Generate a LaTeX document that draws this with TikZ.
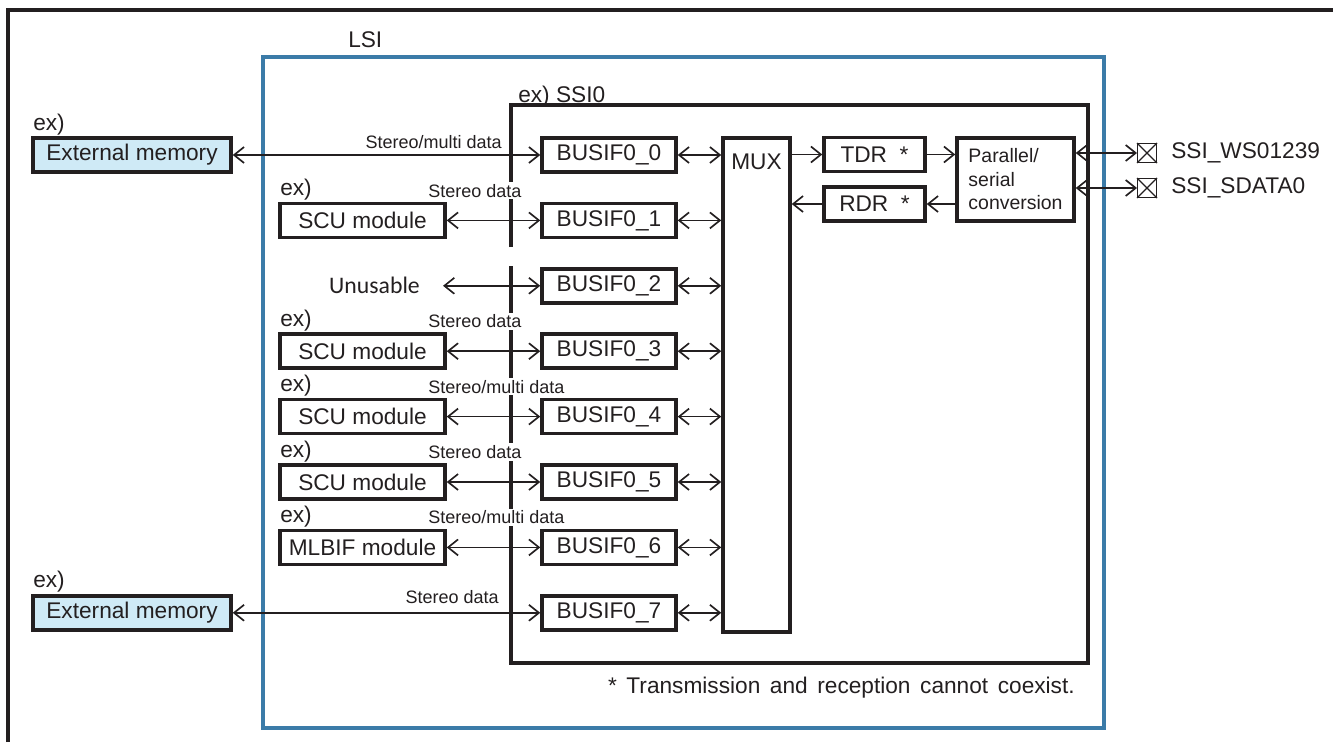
\documentclass[tikz,border=0pt]{standalone}
\usepackage{fontspec}
\setmainfont{Liberation Sans}
\newfontfamily\calib{Carlito}
\usetikzlibrary{arrows.meta,calc}
\definecolor{ink}{HTML}{231F20}
\definecolor{lsiblue}{HTML}{3B7BA8}
\definecolor{memfill}{HTML}{CFEAF6}
\begin{document}
\begin{tikzpicture}[x=0.75pt,y=-0.75pt,
  every node/.style={text=ink},
  blk/.style={draw=ink, line width=2.6pt, inner sep=0pt, font=\fontsize{17}{19}\selectfont, minimum height=25.5pt},
  mem/.style={blk, fill=memfill, minimum width=148.5pt},
  modbox/.style={blk, minimum width=123.75pt},
  bus/.style={blk, minimum width=100.5pt},
  reg/.style={blk, minimum width=75.75pt},
  lbl/.style={font=\fontsize{17}{19}\selectfont, inner sep=0pt},
  dat/.style={font=\fontsize{13.5}{16}\selectfont, fill=white, inner sep=1.5pt},
  bi/.style={draw=ink, line width=1.25pt, {Straight Barb[length=7.5pt,width=12pt]}-{Straight Barb[length=7.5pt,width=12pt]}},
  uni/.style={draw=ink, line width=1.25pt, -{Straight Barb[length=7.5pt,width=12pt]}},
  pad/.style={draw=ink, line width=1pt, minimum size=14pt, inner sep=0pt},
]
\useasboundingbox (0,0) rectangle (1333,742);
% outer frame
\draw[ink, line width=2.6pt] (8,742) -- (8,10) -- (1333,10);
% LSI
\draw[lsiblue, line width=2.8pt] (263,57) rectangle (1104,728);
\node[lbl, anchor=base west] (lsi) at (348,48) {LSI};
% SSI0 box (left edge broken)
\draw[ink, line width=2.6pt, line join=miter] (511,247) -- (511,105) -- (1088,105) -- (1088,663) -- (511,663) -- (511,266);
\node[lbl, anchor=base west] (ssi) at (518,103) {ex) SSI0};

% left column
\node[lbl, anchor=base west] (ex0) at (33,130) {ex)};
\node[mem] (em0) at (132,155) {External memory};
\node[lbl, anchor=base west] (ex1) at (280,195.4) {ex)};
\node[modbox] (m1) at (362.5,220.4) {SCU module};
\node[lbl, font=\calib\fontsize{17.8}{20}\selectfont] (unu) at (374.5,285.8) {Unusable};
\coordinate (u2) at (443,285.8);
\node[lbl, anchor=base west] (ex3) at (280,326.2) {ex)};
\node[modbox] (m3) at (362.5,351.2) {SCU module};
\node[lbl, anchor=base west] (ex4) at (280,391.6) {ex)};
\node[modbox] (m4) at (362.5,416.6) {SCU module};
\node[lbl, anchor=base west] (ex5) at (280,457) {ex)};
\node[modbox] (m5) at (362.5,482) {SCU module};
\node[lbl, anchor=base west] (ex6) at (280,522.4) {ex)};
\node[modbox] (m6) at (362.5,547.4) {MLBIF module};
\node[lbl, anchor=base west] (ex7) at (33,587.8) {ex)};
\node[mem] (em7) at (132,612.8) {External memory};

% BUSIF column
\node[bus] (b0) at (609,155) {BUSIF0\_0};
\node[bus] (b1) at (609,220.4) {BUSIF0\_1};
\node[bus] (b2) at (609,285.8) {BUSIF0\_2};
\node[bus] (b3) at (609,351.2) {BUSIF0\_3};
\node[bus] (b4) at (609,416.6) {BUSIF0\_4};
\node[bus] (b5) at (609,482) {BUSIF0\_5};
\node[bus] (b6) at (609,547.4) {BUSIF0\_6};
\node[bus] (b7) at (609,612.8) {BUSIF0\_7};

% MUX, registers, converter
\node[blk, minimum width=50.25pt, minimum height=370.5pt] (mux) at (756.5,385) {};
\node[lbl] (muxt) at (756.5,162) {MUX};
\node[reg] (tdr) at (874.5,154.5) {TDR\ \ *};
\node[reg] (rdr) at (874.5,204) {RDR\ \ *};
\node[blk, minimum width=87.75pt, minimum height=62.25pt, align=left, font=\fontsize{14.6}{17.6}\selectfont] (ps) at (1015.5,179.5) {Parallel/\\serial\\conversion};

% pads
\node[pad] (p1) at (1147,153) {};
\node[pad] (p2) at (1147,188) {};
\draw[ink, line width=1pt] (p1.north west) -- (p1.south east) (p1.north east) -- (p1.south west);
\draw[ink, line width=1pt] (p2.north west) -- (p2.south east) (p2.north east) -- (p2.south west);
\node[lbl, anchor=west] (p1t) at (1171,153) {SSI\_WS01239};
\node[lbl, anchor=west] (p2t) at (1171,188) {SSI\_SDATA0};

% connectors left
\draw[bi] (em0.east) -- (b0.west);
\draw[bi] (m1.east) -- (b1.west);
\draw[bi] (u2) -- (b2.west);
\draw[bi] (m3.east) -- (b3.west);
\draw[bi] (m4.east) -- (b4.west);
\draw[bi] (m5.east) -- (b5.west);
\draw[bi] (m6.east) -- (b6.west);
\draw[bi] (em7.east) -- (b7.west);

% data labels
\node[dat, anchor=base east] (d0) at (504,148) {Stereo/multi data};
\node[dat, anchor=base west] (d1) at (426,197) {Stereo data};
\node[dat, anchor=base west] (d3) at (426,327.7) {Stereo data};
\node[dat, anchor=base west] (d4) at (426,393.1) {Stereo/multi data};
\node[dat, anchor=base west] (d5) at (426,458.5) {Stereo data};
\node[dat, anchor=base west] (d6) at (426,523.9) {Stereo/multi data};
\node[dat, anchor=base east] (d7) at (501,603) {Stereo data};

% BUSIF to MUX
\foreach \b in {b0,b1,b2,b3,b4,b5,b6,b7}{
  \draw[bi] (\b.east) -- (\b.east -| mux.west);
}
% MUX / TDR / RDR / PS
\draw[uni] (tdr.west -| mux.east) -- (tdr.west);
\draw[uni] (tdr.east) -- (tdr.east -| ps.west);
\draw[uni] (rdr.east -| ps.west) -- (rdr.east);
\draw[uni] (rdr.west) -- (rdr.west -| mux.east);
\draw[bi] (p1.west -| ps.east) -- (p1.west);
\draw[bi] (p2.west -| ps.east) -- (p2.west);

% footnote
\node[lbl, anchor=base east] (note) at (1075,693) {\spaceskip=7.2pt * Transmission and reception cannot coexist.};
\end{tikzpicture}
\end{document}
